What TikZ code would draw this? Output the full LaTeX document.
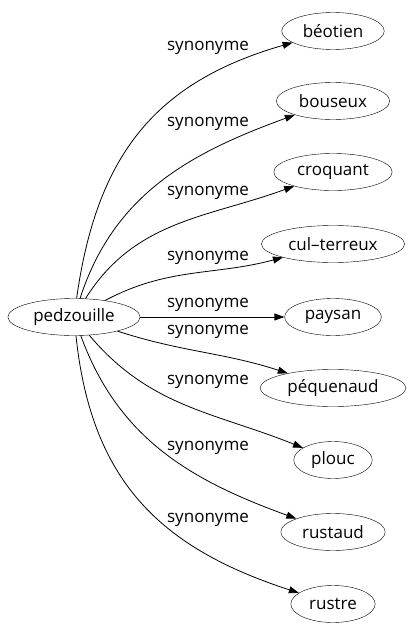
\documentclass[tikz,border=0pt]{standalone}
\usepackage{fontspec}
\setmainfont{Open Sans}
\usetikzlibrary{arrows.meta,shapes.geometric}
\begin{document}
\begin{tikzpicture}[x=1pt,y=-1pt,
  word/.style={draw,ellipse,minimum height=37pt,inner xsep=6pt,inner ysep=3pt,font=\fontsize{17}{19}\selectfont},
  lbl/.style={font=\fontsize{17}{19}\selectfont,inner sep=0pt},
  edge/.style={draw,-{Triangle[length=10pt,width=7pt]},line width=0.8pt}]
\useasboundingbox (0,0) rectangle (415,635);
\node[word] (p) at (74,317) {pedzouille};
\node[word] (b1) at (333,31) {béotien};
\node[word] (b2) at (333,101) {bouseux};
\node[word] (b3) at (333,172) {croquant};
\node[word] (b4) at (333,244) {cul–terreux};
\node[word] (b5) at (333,317) {paysan};
\node[word] (b6) at (333,388) {péquenaud};
\node[word] (b7) at (333,460) {plouc};
\node[word] (b8) at (333,532) {rustaud};
\node[word] (b9) at (333,604) {rustre};
\node[lbl] (l1) at (208,48) {synonyme};
\node[lbl] (l2) at (208,124) {synonyme};
\node[lbl] (l3) at (208,193) {synonyme};
\node[lbl] (l4) at (208,258) {synonyme};
\node[lbl] (l5) at (208,305) {synonyme};
\node[lbl] (l6) at (208,332) {synonyme};
\node[lbl] (l7) at (208,382) {synonyme};
\node[lbl] (l8) at (208,448) {synonyme};
\node[lbl] (l9) at (208,520) {synonyme};
\draw[edge] (p) to[out=82,in=196,looseness=1.1] (b1);
\draw[edge] (p) to[out=72,in=200] (b2);
\draw[edge] (p) to[out=58,in=200] (b3);
\draw[edge] (p) to[out=28,in=195] (b4);
\draw[edge] (p) -- (b5);
\draw[edge] (p) to[out=-18,in=162] (b6);
\draw[edge] (p) to[out=-50,in=158] (b7);
\draw[edge] (p) to[out=-70,in=160] (b8);
\draw[edge] (p) to[out=-84,in=162,looseness=1.1] (b9);
\end{tikzpicture}
\end{document}
